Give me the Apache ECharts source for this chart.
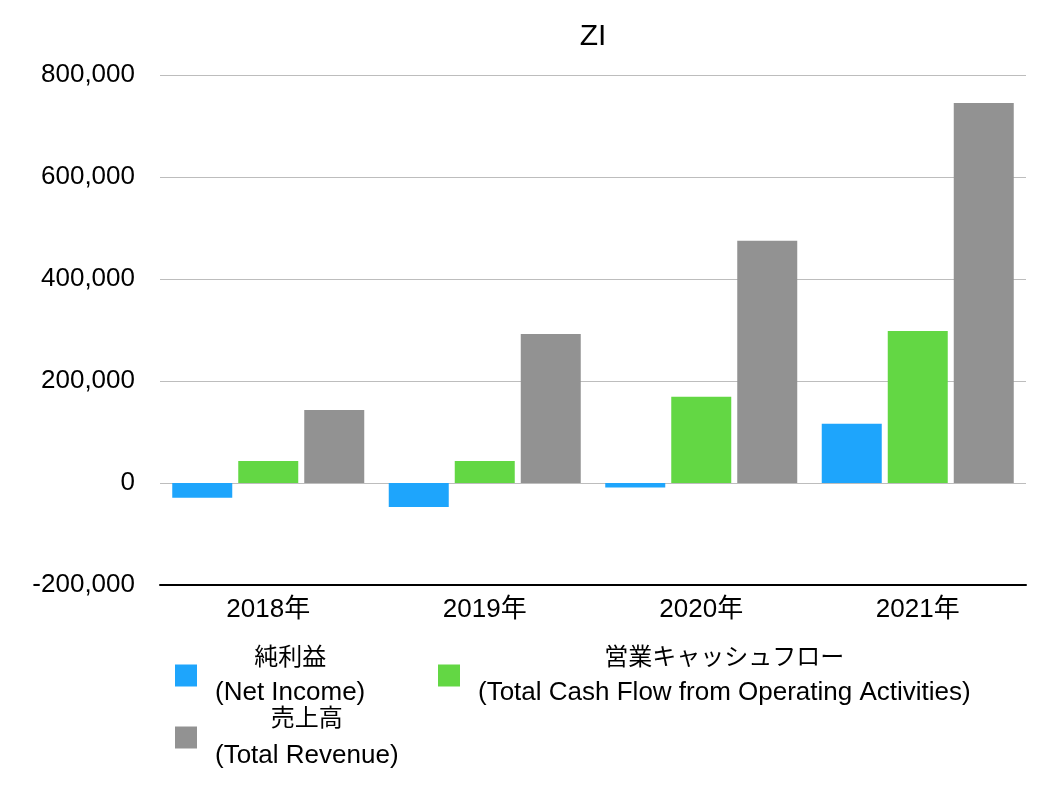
<!DOCTYPE html>
<html><head><meta charset="utf-8">
<script src="https://cdn.jsdelivr.net/npm/echarts@6/dist/echarts.min.js"></script>
<style>html,body{margin:0;padding:0;background:#fff}#c{width:1056px;height:794px}</style>
</head><body><div id="c"></div>
<script>
const title = 'ZI';
const categories = ['2018年', '2019年', '2020年', '2021年'];
const netIncome = [-29000, -47000, -9000, 116000];
const cashFlow = [43000, 43000, 169000, 298000];
const revenue = [143000, 292000, 475000, 745000];
const seriesNames = ['純利益\n(Net Income)', '営業キャッシュフロー\n(Total Cash Flow from Operating Activities)', '売上高\n(Total Revenue)'];
const yTicks = { min: -200000, max: 800000, interval: 200000 };

const FONT = '"Liberation Sans", "Noto Sans CJK JP", sans-serif';
const chart = echarts.init(document.getElementById('c'));
const legendFmt = function (name) {
  const p = name.split('\n');
  return '{a|' + p[0] + '}\n{b|' + p[1] + '}';
};
function legendText(lh) {
  return {
    fontFamily: FONT, fontSize: 26, color: '#000', padding: [0, 0, 0, 13],
    rich: {
      a: { fontFamily: FONT, fontSize: 24, lineHeight: lh, align: 'center', color: '#000' },
      b: { fontFamily: FONT, fontSize: 26, lineHeight: lh, align: 'center', color: '#000' }
    }
  };
}
function mkLegend(name, left, top, lh) {
  return { data: [name], left: left, top: top, padding: 0, itemWidth: 22, itemHeight: 22, itemTextGap: 5,
    icon: 'rect', formatter: legendFmt, textStyle: legendText(lh), selectedMode: false };
}
chart.setOption({
  animation: false,
  color: ['#1ea5fc', '#63d744', '#929292'],
  title: { text: title, left: 593, textAlign: 'center', top: 22, padding: 0, textStyle: { fontFamily: FONT, fontSize: 30, fontWeight: 'normal', color: '#000' } },
  grid: { left: 160, right: 30, top: 75, bottom: 209, containLabel: false },
  legend: [
    mkLegend(seriesNames[0], 175, 646, 35),
    mkLegend(seriesNames[1], 438, 646, 35),
    mkLegend(seriesNames[2], 175, 707, 37)
  ],
  xAxis: {
    type: 'category', data: categories,
    axisLine: { onZero: false, lineStyle: { color: '#000', width: 2 } },
    axisTick: { show: false },
    axisLabel: { fontFamily: FONT, fontSize: 26, color: '#000', margin: 12 }
  },
  yAxis: {
    type: 'value', min: yTicks.min, max: yTicks.max, interval: yTicks.interval,
    axisLine: { show: false }, axisTick: { show: false },
    splitLine: { lineStyle: { color: '#bdbdbd', width: 1 } },
    axisLabel: { fontFamily: FONT, fontSize: 26, color: '#000', margin: 25,
      formatter: v => v.toLocaleString('en-US') }
  },
  series: [
    { name: seriesNames[0], type: 'bar', data: netIncome, barWidth: 60, barGap: '10%' },
    { name: seriesNames[1], type: 'bar', data: cashFlow, barWidth: 60, barGap: '10%' },
    { name: seriesNames[2], type: 'bar', data: revenue, barWidth: 60, barGap: '10%' }
  ]
});
</script></body></html>
